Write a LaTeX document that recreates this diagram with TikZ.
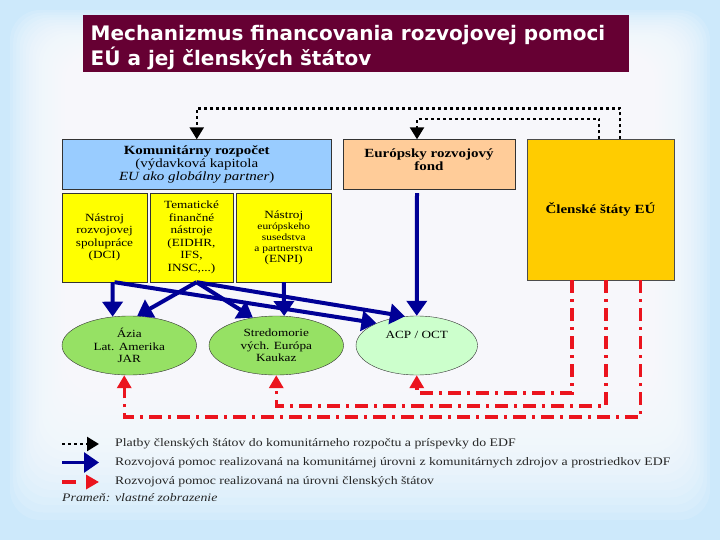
\documentclass[tikz,border=0pt]{standalone}
\usepackage{fontspec}
\setmainfont{Liberation Serif}[FakeStretch=1.2]
\newfontfamily\headfont{DejaVu Sans}
\usetikzlibrary{arrows.meta,positioning,calc,shapes.geometric}
\definecolor{eubg}{RGB}{205,233,251}
\definecolor{eutitle}{RGB}{102,0,51}
\definecolor{eubudget}{RGB}{153,204,255}
\definecolor{eutool}{RGB}{255,255,0}
\definecolor{euedf}{RGB}{255,204,153}
\definecolor{eumember}{RGB}{255,204,0}
\definecolor{eugreen}{RGB}{150,225,100}
\definecolor{eupale}{RGB}{204,255,204}
\definecolor{eunavy}{RGB}{0,0,150}
\definecolor{eured}{RGB}{235,20,30}
\newcommand\headsize{\fontsize{12.5}{13}\selectfont}
\newcommand\toolsize{\fontsize{11}{12.5}\selectfont}
\newcommand\smalltool{\fontsize{9.5}{11}\selectfont}
\newcommand\legsize{\fontsize{11.5}{12}\selectfont}
\tikzset{
  titlebox/.style={
    fill=eutitle,
    minimum width=546pt,
    minimum height=57pt,
    inner sep=0pt
  },
  titletext/.style={
    text=white,
    inner sep=0pt,
    align=left,
    font=\headfont\bfseries\fontsize{20}{25.5}\selectfont
  },
  budgetbox/.style={
    draw=black!80,
    fill=eubudget,
    minimum width=269.5pt,
    minimum height=49.5pt,
    inner sep=0pt,
    align=center,
    font=\headsize
  },
  toolbox/.style={
    draw=black!80,
    fill=eutool,
    minimum height=89pt,
    inner sep=0pt,
    align=center,
    font=\toolsize
  },
  edfbox/.style={
    draw=black!80,
    fill=euedf,
    minimum width=172pt,
    minimum height=49.5pt,
    inner sep=0pt
  },
  memberbox/.style={
    draw=black!70,
    fill=eumember,
    minimum width=147pt,
    minimum height=140.5pt,
    inner sep=0pt,
    font=\headsize\bfseries
  },
  region/.style={
    ellipse,
    draw=black!80,
    fill=eugreen,
    minimum width=134.5pt,
    minimum height=59pt,
    inner sep=0pt,
    align=center,
    font=\toolsize
  },
  arr/.style={-{Triangle[length=15pt,width=20pt]},line width=4pt,eunavy},
  payarr/.style={-{Triangle[length=12pt,width=14pt]},line width=2.5pt,black,dash pattern=on 3pt off 3pt},
  memberarr/.style={-{Triangle[length=13pt,width=14pt]},line width=3.5pt,eured,dash pattern=on 13pt off 6pt on 3pt off 6pt},
  legtext/.style={anchor=west,inner sep=0pt,font=\legsize,text=black!85}
}
\begin{document}
\begin{tikzpicture}[x=1pt,y=-1pt]
  \useasboundingbox (0,0) rectangle (720,540);
  \fill[eubg] (0,0) rectangle (720,540);
  \foreach \i in {0,...,19}
    \fill[white,opacity=0.12,rounded corners=30pt] ({10+3.2*\i},{10+2.5*\i}) rectangle ({710-3.2*\i},{520-7.5*\i});

  \node[titlebox] (title) at (356,43.5) {};
  \node[titletext,anchor=north west] (titlelab) at (90.5,25) {Mechanizmus financovania rozvojovej pomoci\\EÚ a jej členských štátov};

  \node[budgetbox] (komun) at (196.75,164.25) {\textbf{Komunitárny rozpočet}\\(výdavková kapitola\\\textit{EU ako globálny partner})};
  \node[toolbox,minimum width=85pt] (dci) at (104.5,237.5) {Nástroj\\rozvojovej\\spolupráce\\(DCI)};
  \node[toolbox,minimum width=83pt] (tef) at (191.5,237.5) {Tematické\\finančné\\nástroje\\(EIDHR,\\IFS,\\INSC,...)};
  \node[toolbox,minimum width=95.5pt,font=\smalltool] (enpi) at (283.75,237.5) {{\toolsize Nástroj}\\európskeho\\susedstva\\a partnerstva\\{\toolsize (ENPI)}};
  \node[edfbox] (edf) at (429,164.25) {};
  \node[font=\headsize\bfseries,align=center] (edflab) at ([yshift=5pt]edf.center) {Európsky rozvojový\\fond};
  \node[memberbox] (clen) at (600.5,209.75) {Členské štáty EÚ};

  \node[region] (azia) at (129.25,345.5) {Ázia\\Lat. Amerika\\JAR};
  \node[region] (stred) at (276.25,345.5) {Stredomorie\\vých. Európa\\Kaukaz};
  \node[region,fill=eupale,minimum width=121.5pt] (acp) at (416.75,345.5) {};
  \node[font=\toolsize] (acplab) at ([yshift=11pt]acp.center) {ACP / OCT};

  \draw[payarr] ([xshift=19.5pt]clen.north) -- ++(0,-31) -| (komun.north);
  \draw[payarr] ([xshift=-1.5pt]clen.north) -- ++(0,-20.5) -| ([xshift=-12pt]edf.north);

  \draw[arr] ([xshift=8pt]dci.south) -- (azia.120);
  \draw[arr] ([xshift=10pt]dci.south) -- (acp.151);
  \draw[arr] ([xshift=5pt]tef.south) -- (azia.75);
  \draw[arr] ([xshift=5pt]tef.south) -- (stred.130);
  \draw[arr] ([xshift=5pt]tef.south) -- (acp.112);
  \draw[arr] (enpi.south) -- (stred.75);
  \draw[arr] ([xshift=-12pt,yshift=-4pt]edf.south) -- (acp.north);

  \draw[memberarr] ([xshift=-28.5pt]clen.south) -- ++(0,112.6) -| (acp.south);
  \draw[memberarr] ([xshift=5.5pt]clen.south) -- ++(0,125.6) -| (stred.south);
  \draw[memberarr] ([xshift=40pt]clen.south) -- ++(0,137) -| ([xshift=-5pt]azia.south);

  \coordinate (l1s) at (62,444);
  \coordinate (l1e) at (99,444);
  \coordinate (l2s) at (62,462.5);
  \coordinate (l2e) at (99,462.5);
  \coordinate (l3s) at (62,482);
  \coordinate (l3e) at (99,482);
  \draw[payarr] (l1s) -- (l1e);
  \draw[arr,line width=3pt] (l2s) -- (l2e);
  \draw[memberarr,dash pattern=on 14pt off 20pt] (l3s) -- (l3e);
  \node[legtext] (leg1) at (115,444) {Platby členských štátov do komunitárneho rozpočtu a príspevky do EDF};
  \node[legtext] (leg2) at (115,462.5) {Rozvojová pomoc realizovaná na komunitárnej úrovni z komunitárnych zdrojov a prostriedkov EDF};
  \node[legtext] (leg3) at (115,482) {Rozvojová pomoc realizovaná na úrovni členských štátov};
  \node[legtext] (src) at (62,497.6) {\textit{Prameň: vlastné zobrazenie}};
\end{tikzpicture}
\end{document}
